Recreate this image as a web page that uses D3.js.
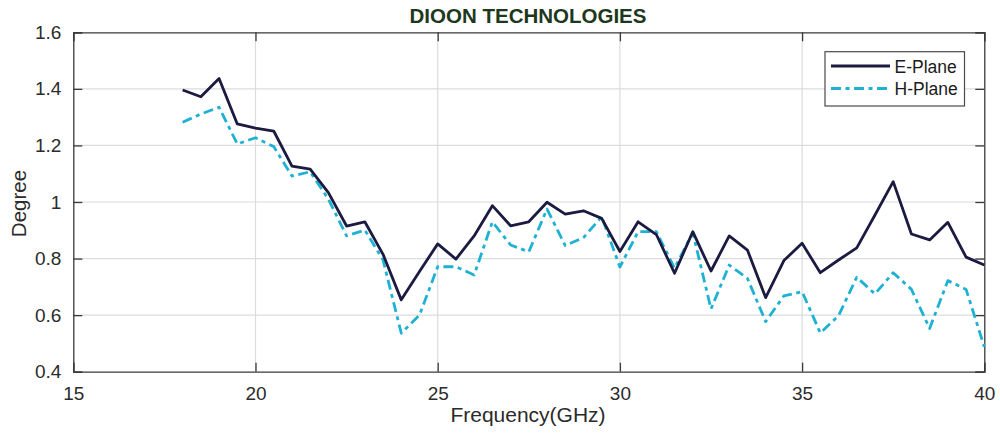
<!DOCTYPE html>
<html>
<head>
<meta charset="utf-8">
<script src="https://cdn.jsdelivr.net/npm/d3@7/dist/d3.min.js"></script>
<style>
  html, body { margin: 0; padding: 0; background: #fff; }
  svg { display: block; font-family: "Liberation Sans", Arial, sans-serif; }
</style>
</head>
<body>
<svg id="chart" width="1000" height="437"></svg>
<script>
const frequencies = [18,18.5,19,19.5,20,20.5,21,21.5,22,22.5,23,23.5,24,24.5,25,25.5,26,26.5,27,27.5,28,28.5,29,29.5,30,30.5,31,31.5,32,32.5,33,33.5,34,34.5,35,35.5,36,36.5,37,37.5,38,38.5,39,39.5,40];
const ePlane = [1.396,1.372,1.437,1.276,1.261,1.251,1.127,1.116,1.033,0.915,0.930,0.815,0.654,0.754,0.852,0.798,0.880,0.987,0.916,0.930,0.999,0.957,0.969,0.942,0.825,0.930,0.885,0.748,0.895,0.756,0.880,0.830,0.662,0.793,0.854,0.750,0.795,0.838,0.954,1.072,0.887,0.866,0.928,0.805,0.777];
const hPlane = [1.282,1.311,1.335,1.205,1.227,1.196,1.092,1.107,1.010,0.880,0.901,0.795,0.536,0.600,0.771,0.771,0.742,0.930,0.848,0.824,0.975,0.846,0.874,0.948,0.770,0.895,0.895,0.766,0.892,0.622,0.777,0.730,0.577,0.668,0.683,0.537,0.598,0.734,0.675,0.750,0.691,0.553,0.722,0.691,0.488];
const xTicks = [15,20,25,30,35,40];
const yTicks = [0.4,0.6,0.8,1,1.2,1.4,1.6];
const seriesNames = ["E-Plane","H-Plane"];
const titleText = "DIOON TECHNOLOGIES";
const xLabel = "Frequency(GHz)";
const yLabel = "Degree";

const svg = d3.select("#chart");
const L = 73.3, R = 984.3, T = 32.3, B = 371.7;
const x = d3.scaleLinear().domain([15,40]).range([L,R]);
const y = d3.scaleLinear().domain([0.4,1.6]).range([B,T]);

const gridColor = "#dcdcdc", axisColor = "#3a3a3a", textColor = "#2b2b2b";

// grid
svg.append("g").selectAll("line").data(xTicks.slice(1,-1)).join("line")
  .attr("x1", d=>x(d)).attr("x2", d=>x(d)).attr("y1", T).attr("y2", B)
  .attr("stroke", gridColor).attr("stroke-width", 1.2);
svg.append("g").selectAll("line").data(yTicks.slice(1,-1)).join("line")
  .attr("y1", d=>y(d)).attr("y2", d=>y(d)).attr("x1", L).attr("x2", R)
  .attr("stroke", gridColor).attr("stroke-width", 1.2);

// axes (bottom, left) with inward ticks
const xAxis = d3.axisBottom(x).tickValues(xTicks).tickSize(-9).tickPadding(15).tickFormat(d3.format("d"));
const gx = svg.append("g").attr("transform", `translate(0,${B})`).call(xAxis);
const yAxis = d3.axisLeft(y).tickValues(yTicks).tickSize(-9).tickPadding(12).tickFormat(d => d === 1 ? "1" : d3.format(".1f")(d));
const gy = svg.append("g").attr("transform", `translate(${L},0)`).call(yAxis);
// top and right ticks (box on)
const gxt = svg.append("g").attr("transform", `translate(0,${T})`).call(d3.axisTop(x).tickValues(xTicks).tickSize(-9).tickFormat(""));
const gyr = svg.append("g").attr("transform", `translate(${R},0)`).call(d3.axisRight(y).tickValues(yTicks).tickSize(-9).tickFormat(""));
[gx, gy, gxt, gyr].forEach(g => {
  g.select(".domain").attr("stroke", axisColor).attr("stroke-width", 1.3);
  g.selectAll(".tick line").attr("stroke", axisColor).attr("stroke-width", 1.3);
  g.selectAll(".tick text").attr("fill", textColor).attr("font-size", 19).attr("font-family", "Liberation Sans, Arial, sans-serif");
});

// lines
const line = d3.line().x((d,i)=>x(frequencies[i])).y(d=>y(d));
svg.append("path").datum(hPlane).attr("d", line).attr("fill","none")
  .attr("stroke","#1fb1d4").attr("stroke-width",2.8).attr("stroke-dasharray","10,4.5,4,4.5").attr("stroke-linejoin","round");
svg.append("path").datum(ePlane).attr("d", line).attr("fill","none")
  .attr("stroke","#1b1a40").attr("stroke-width",2.8).attr("stroke-linejoin","round");

// title
svg.append("text").attr("x", 528).attr("y", 22.5).attr("text-anchor","middle")
  .attr("font-size", 20.5).attr("font-weight","bold").attr("fill","#1d381d").text(titleText);

// axis labels
svg.append("text").attr("x", 528).attr("y", 421.7).attr("text-anchor","middle")
  .attr("font-size", 21).attr("fill", textColor).text(xLabel);
svg.append("text").attr("transform","translate(26,203.5) rotate(-90)").attr("text-anchor","middle")
  .attr("font-size", 20.5).attr("fill", textColor).text(yLabel);

// legend
const lg = svg.append("g");
lg.append("rect").attr("x", 825).attr("y", 51.7).attr("width", 139.5).attr("height", 54.3)
  .attr("fill","#fff").attr("stroke","#4a4a4a").attr("stroke-width",1.2);
const legendItems = [
  {name: seriesNames[0], color:"#1b1a40", dash:null, y:66},
  {name: seriesNames[1], color:"#1fb1d4", dash:"10,4.5,4,4.5", y:88.5}
];
legendItems.forEach(it => {
  lg.append("line").attr("x1",831).attr("x2",890).attr("y1",it.y).attr("y2",it.y)
    .attr("stroke",it.color).attr("stroke-width",2.8).attr("stroke-dasharray",it.dash);
  lg.append("text").attr("x",894.5).attr("y",it.y+6.5).attr("font-size",17.5).attr("fill","#1a1a1a").text(it.name);
});
</script>
</body>
</html>
